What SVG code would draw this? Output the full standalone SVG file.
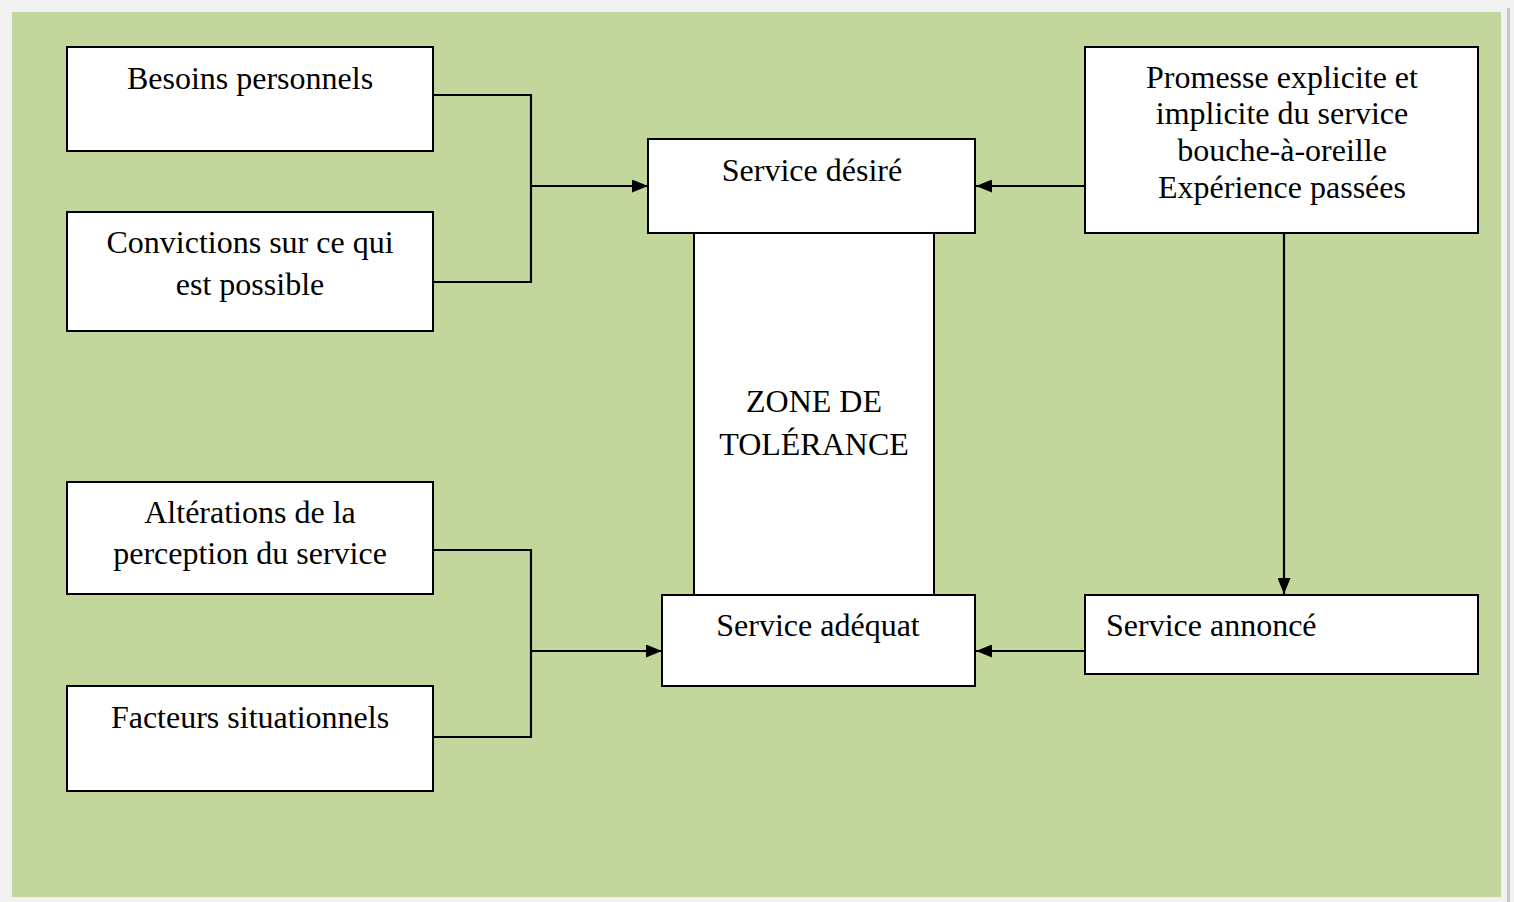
<svg xmlns="http://www.w3.org/2000/svg" width="1514" height="902" viewBox="0 0 1514 902">
  <style>
    .box { fill: #ffffff; stroke: #000000; stroke-width: 2; }
    .lbl { font-family: "Liberation Serif", "Times New Roman", serif; font-size: 32px; fill: #000000; }
    .mid { text-anchor: middle; }
    .wire { fill: none; stroke: #000000; stroke-width: 2.2; }
  </style>
  <defs>
    <marker id="arrow" viewBox="0 0 16 13" refX="16" refY="6.5" markerWidth="16" markerHeight="13" markerUnits="userSpaceOnUse" orient="auto">
      <path d="M0,0 L16,6.5 L0,13 Z" fill="#000000"/>
    </marker>
  </defs>

  <!-- page and panel -->
  <rect x="0" y="0" width="1514" height="902" fill="#f2f2f2"/>
  <rect x="1507" y="8" width="3" height="894" fill="#c8c8c8"/>
  <rect x="12" y="12" width="1489" height="885" fill="#c3d69b"/>

  <!-- connectors -->
  <g id="connectors">
    <polyline class="wire" points="433,95 531,95 531,282 433,282"/>
    <line class="wire" x1="531" y1="186" x2="648" y2="186" marker-end="url(#arrow)"/>
    <polyline class="wire" points="433,550 531,550 531,737 433,737"/>
    <line class="wire" x1="531" y1="651" x2="662" y2="651" marker-end="url(#arrow)"/>
    <line class="wire" x1="1085" y1="186" x2="976" y2="186" marker-end="url(#arrow)"/>
    <line class="wire" x1="1284" y1="233" x2="1284" y2="594" marker-end="url(#arrow)"/>
    <line class="wire" x1="1085" y1="651" x2="976" y2="651" marker-end="url(#arrow)"/>
  </g>

  <g id="besoins">
    <rect class="box" x="67" y="47" width="366" height="104"/>
    <text class="lbl mid" x="250" y="89">Besoins personnels</text>
  </g>
  <g id="convictions">
    <rect class="box" x="67" y="212" width="366" height="119"/>
    <text class="lbl mid" x="250" y="253">Convictions sur ce qui</text>
    <text class="lbl mid" x="250" y="295">est possible</text>
  </g>
  <g id="alterations">
    <rect class="box" x="67" y="482" width="366" height="112"/>
    <text class="lbl mid" x="250" y="523">Altérations de la</text>
    <text class="lbl mid" x="250" y="564">perception du service</text>
  </g>
  <g id="facteurs">
    <rect class="box" x="67" y="686" width="366" height="105"/>
    <text class="lbl mid" x="250" y="728">Facteurs situationnels</text>
  </g>
  <g id="zone">
    <rect class="box" x="694" y="233" width="240" height="362"/>
    <text class="lbl mid" x="814" y="412">ZONE DE</text>
    <text class="lbl mid" x="814" y="455">TOLÉRANCE</text>
  </g>
  <g id="desire">
    <rect class="box" x="648" y="139" width="327" height="94"/>
    <text class="lbl mid" x="812" y="181">Service désiré</text>
  </g>
  <g id="adequat">
    <rect class="box" x="662" y="595" width="313" height="91"/>
    <text class="lbl mid" x="818" y="636">Service adéquat</text>
  </g>
  <g id="promesse">
    <rect class="box" x="1085" y="47" width="393" height="186"/>
    <text class="lbl mid" x="1282" y="88">Promesse explicite et</text>
    <text class="lbl mid" x="1282" y="124">implicite du service</text>
    <text class="lbl mid" x="1282" y="161">bouche-à-oreille</text>
    <text class="lbl mid" x="1282" y="198">Expérience passées</text>
  </g>
  <g id="annonce">
    <rect class="box" x="1085" y="595" width="393" height="79"/>
    <text class="lbl" x="1106" y="636">Service annoncé</text>
  </g>
</svg>
